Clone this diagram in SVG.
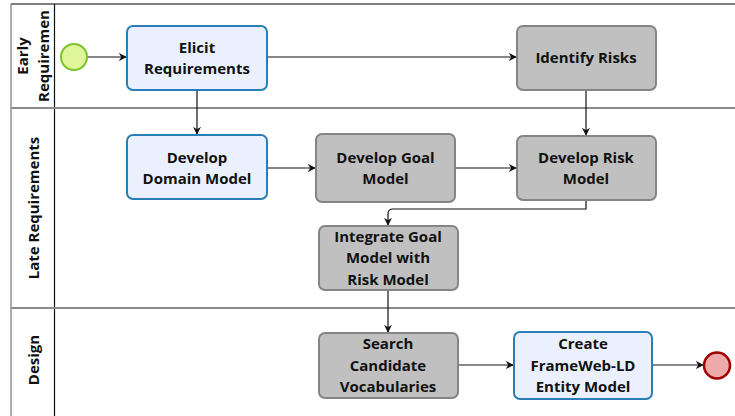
<svg xmlns="http://www.w3.org/2000/svg" width="735" height="416" viewBox="0 0 735 416">
<defs>
<style>
text{font-family:"Open Sans","Noto Sans","DejaVu Sans",sans-serif;font-weight:bold;font-size:15px;fill:#111;text-anchor:middle}
.blue{fill:#eaf0fd;stroke:#2b7db5;stroke-width:2}
.gray{fill:#c0c0c0;stroke:#858585;stroke-width:2}
.lane{stroke:#8a8a8a;stroke-width:2;fill:none}
.conn{stroke:#111;stroke-width:1.2;fill:none;marker-end:url(#ah)}
</style>
<marker id="ah" viewBox="0 0 10 10" refX="9" refY="5" markerWidth="8" markerHeight="8" markerUnits="userSpaceOnUse" orient="auto">
<path d="M0,0 L10,5 L0,10 L3,5 Z" fill="#111"/>
</marker>
</defs>
<rect width="735" height="416" fill="#fff"/>
<g id="pool">
<line x1="11" y1="4" x2="735" y2="4" stroke="#555" stroke-width="1.5"/>
<line x1="11" y1="4" x2="11" y2="416" stroke="#777" stroke-width="1.2"/>
<line x1="54.5" y1="4" x2="54.5" y2="416" stroke="#111" stroke-width="1.2"/>
<line class="lane" x1="11" y1="108" x2="735" y2="108"/>
<line class="lane" x1="11" y1="308" x2="735" y2="308"/>
<text transform="translate(28,56) rotate(-90)">Early</text>
<text transform="translate(49,56) rotate(-90)">Requiremen</text>
<text transform="translate(39,208) rotate(-90)">Late Requirements</text>
<text transform="translate(39,360) rotate(-90)">Design</text>
</g>
<g id="connectors">
<path class="conn" d="M87,57 H126"/>
<path class="conn" d="M267,57 H516"/>
<path class="conn" d="M197,90 V134"/>
<path class="conn" d="M586,90 V135"/>
<path class="conn" d="M267,168 H315"/>
<path class="conn" d="M455,168 H516"/>
<path class="conn" d="M586,200 V209 H393 Q388,209 388,214 V225"/>
<path class="conn" d="M388,290 V332"/>
<path class="conn" d="M458,365 H513"/>
<path class="conn" d="M652,365 H703"/>
</g>
<g id="start"><circle cx="74" cy="57" r="13" fill="#def59a" stroke="#7cc22a" stroke-width="2"/></g>
<g id="end"><circle cx="717" cy="365.5" r="13" fill="#eeaaaa" stroke="#a00000" stroke-width="2.5"/></g>
<g id="elicit"><rect class="blue" x="127" y="26" width="140" height="64" rx="6"/>
<text x="197" y="53">Elicit</text><text x="197" y="74">Requirements</text></g>
<g id="identify"><rect class="gray" x="517" y="26" width="139" height="64" rx="6"/>
<text x="586" y="63">Identify Risks</text></g>
<g id="domain"><rect class="blue" x="127" y="135" width="140" height="64" rx="6"/>
<text x="197" y="163">Develop</text><text x="197" y="183.5">Domain Model</text></g>
<g id="goal"><rect class="gray" x="316" y="134" width="139" height="68" rx="6"/>
<text x="385.5" y="163">Develop Goal</text><text x="385.5" y="183.5">Model</text></g>
<g id="risk"><rect class="gray" x="517" y="136" width="139" height="64" rx="6"/>
<text x="586" y="163">Develop Risk</text><text x="586" y="183.5">Model</text></g>
<g id="integrate"><rect class="gray" x="319" y="226" width="139" height="64" rx="6"/>
<text x="388" y="241.5">Integrate Goal</text><text x="388" y="263">Model with</text><text x="388" y="284.5">Risk Model</text></g>
<g id="search"><rect class="gray" x="319" y="333" width="139" height="65" rx="6"/>
<text x="388" y="349">Search</text><text x="388" y="370.5">Candidate</text><text x="388" y="392">Vocabularies</text></g>
<g id="create"><rect class="blue" x="514" y="332" width="138" height="67" rx="6"/>
<text x="583" y="349">Create</text><text x="583" y="370.5">FrameWeb-LD</text><text x="583" y="392">Entity Model</text></g>
</svg>
